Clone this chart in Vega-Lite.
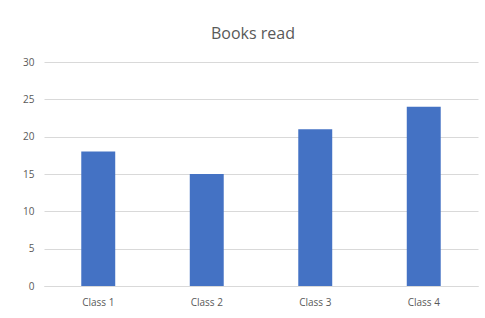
{
  "$schema": "https://vega.github.io/schema/vega-lite/v6.json",
  "autosize": "none",
  "padding": {"left": 44, "top": 62, "right": 7, "bottom": 32},
  "width": 434,
  "height": 224,
  "background": "white",
  "title": {"text": "Books read", "font": "Open Sans", "fontSize": 16, "fontWeight": "normal", "color": "#595959", "offset": 15, "dx": -8, "anchor": "middle"},
  "data": {"values": [
    {"class": "Class 1", "books": 18},
    {"class": "Class 2", "books": 15},
    {"class": "Class 3", "books": 21},
    {"class": "Class 4", "books": 24}
  ]},
  "mark": {"type": "bar", "color": "#4472C4"},
  "encoding": {
    "x": {"field": "class", "type": "nominal", "title": null,
      "scale": {"paddingInner": 0.687, "paddingOuter": 0.3435},
      "axis": {"labelAngle": 0, "ticks": false, "domain": true, "domainColor": "#d9d9d9", "labelFont": "Open Sans", "labelFontSize": 10, "labelColor": "#595959", "labelPadding": 11}},
    "y": {"field": "books", "type": "quantitative", "title": null,
      "scale": {"domain": [0, 30]},
      "axis": {"values": [0, 5, 10, 15, 20, 25, 30], "ticks": false, "domain": false, "gridColor": "#d9d9d9", "labelFont": "Open Sans", "labelFontSize": 10, "labelColor": "#595959", "labelPadding": 10}}
  },
  "config": {"view": {"stroke": null}}
}
